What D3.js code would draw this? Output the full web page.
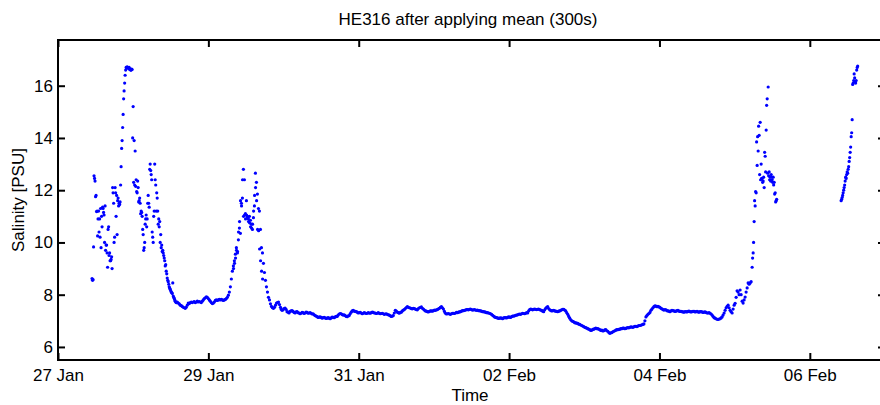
<!DOCTYPE html>
<html><head><meta charset="utf-8">
<script src="https://cdn.jsdelivr.net/npm/d3@7"></script>
<style>
body{margin:0;background:#fff}
svg{display:block}
text{font-family:"Liberation Sans",Arial,Helvetica,sans-serif;fill:#000}
</style>
</head><body>
<svg id="chart" width="880" height="405"></svg>
<script>
// ---- text ----
const titleText = "HE316 after applying mean (300s)";
const xLabelText = "Time";
const yLabelText = "Salinity [PSU]";

// ---- axes ----
const xStart = "2010-01-27 00:00";
const xEnd = "2010-02-07 00:00";
const xTickDates = ["2010-01-27 00:00","2010-01-29 00:00","2010-01-31 00:00","2010-02-02 00:00","2010-02-04 00:00","2010-02-06 00:00"];
const yMin = 5.5, yMax = 17.75;
const yTicks = [6, 8, 10, 12, 14, 16];

// ---- data: blocks of regularly sampled salinity (start time, step in hours, values) ----
const block1Start = "2010-01-27 10:52";
const block1StepH = 0.32;
const block1Values = [
 8.62, 8.58, 12.55, 12.35, 11.8, 11.2, 10.9, 10.4, 10.2, 9.8,
 10.6, 11.3, 11.05, 11.4, 9.9, 9.6, 10.5, 9.5, 9.3, 9.35,
 9.0, 11.9, 10.0, 12.1, 11.0, 10.3, 11.7, 11.5, 11.55, 12.9,
 13.9, 14.9, 15.8, 16.4, 16.7, 16.72, 16.68, 16.7, 16.65, 16.6,
 16.62, 15.2, 13.9, 13.5, 12.4, 11.9, 12.1, 11.6, 11.5, 11.2,
 11.0, 10.3, 9.8, 10.7, 11.05, 10.9, 11.8, 11.35, 13.0, 12.6,
 10.4, 10.0, 11.2, 12.4, 11.2, 11.7, 10.7, 10.6, 10.0, 9.8,
 9.65, 9.6, 9.4, 9.1, 8.9, 8.64, 8.5, 8.3, 8.2, 8.1,
 8.05, 7.95, 7.85, 7.75, 7.7,
 7.72, 7.68, 7.65, 7.6, 7.58, 7.55, 7.52, 7.5, 7.48, 7.52,
 7.6, 7.68, 7.66, 7.7, 7.72, 7.7, 7.72, 7.74, 7.7, 7.72,
 7.75, 7.72, 7.74, 7.72, 7.7, 7.75, 7.8, 7.85, 7.88, 7.92,
 7.9, 7.85, 7.8, 7.75, 7.7, 7.66, 7.68, 7.72, 7.78, 7.8,
 7.78, 7.8, 7.82, 7.8, 7.82, 7.8, 7.78, 7.8, 7.82, 7.85,
 7.9, 7.98, 8.1, 8.3, 8.6, 8.9,
 9.1, 9.3, 9.55, 9.8, 9.6, 10.1, 10.55, 10.35, 11.5, 11.7,
 12.8, 12.4, 11.1, 11.6, 11.0, 10.9, 11.0, 10.85, 10.7, 10.5,
 10.95, 11.4, 12.65, 12.3, 11.85, 11.3, 11.2, 10.5, 9.8, 9.6,
 9.2, 8.85, 8.55, 8.3, 8.1, 7.9, 7.8, 7.65, 7.55, 7.5,
 7.48, 7.52, 7.6, 7.68, 7.7, 7.72, 7.62, 7.52
];

// samples in between block1 samples during the first salty event
const block1bStart = "2010-01-27 11:02";
const block1bStepH = 0.32;
const block1bValues = [
 8.55, 9.83, 12.45, 11.75, 11.18, 10.25, 11.2, 10.9, 11.3, 11.0,
 11.35, 11.15, 10.0, 9.7, 9.9, 9.05, 10.6, 9.6, 9.3, 9.45,
 12.1, 11.5, 10.2, 11.9, 11.8, 11.6, 11.4, 11.45, 12.2, 13.6,
 14.4, 15.5, 16.1, 16.6, 16.68, 16.7, 16.66, 16.62, 16.6, 16.64,
 14.0, 12.3, 12.2, 12.15, 11.95, 12.35, 11.55, 11.7, 11.1, 11.15,
 10.5, 9.7, 10.0, 10.9, 10.6, 11.5, 11.5, 12.8, 12.75, 12.4,
 10.2, 11.0, 13.0, 12.2, 11.9, 11.2, 10.9, 10.8, 10.3, 9.9,
 9.7, 9.5, 9.3, 9.15, 8.8, 8.55, 8.4, 8.25, 8.15, 8.08,
 8.45, 7.9, 7.8, 7.72, 7.7
];

// samples in between block1 samples during the second salty event
const block1cStart = "2010-01-29 08:02";
const block1cStepH = 0.32;
const block1cValues = [
 9.0, 9.2, 9.4, 9.7, 9.65, 10.4, 10.8, 11.6, 11.4, 12.4,
 11.0, 11.05, 10.9, 11.05, 10.95, 10.8, 10.75, 10.6, 10.55, 10.7,
 11.2, 11.8, 12.1, 11.6, 10.5, 10.45, 9.75, 9.3, 8.9, 8.6
];

const block2Start = "2010-01-29 23:12";
const block2StepH = 0.64;
const block2Values = [
 7.45, 7.42, 7.49, 7.35, 7.3, 7.38, 7.36, 7.3, 7.35, 7.3,
 7.29, 7.31, 7.3, 7.32, 7.3, 7.29, 7.27, 7.2, 7.16, 7.14,
 7.13, 7.12, 7.11, 7.1, 7.1, 7.11, 7.13, 7.15, 7.17, 7.26,
 7.27, 7.22, 7.2, 7.16, 7.2, 7.33, 7.4, 7.36, 7.33, 7.31,
 7.3, 7.29, 7.3, 7.29, 7.3, 7.31, 7.32, 7.3, 7.29, 7.29,
 7.28, 7.27, 7.26, 7.25, 7.22, 7.17, 7.2, 7.4, 7.33, 7.29,
 7.33, 7.41, 7.47, 7.54, 7.5, 7.47, 7.48, 7.45, 7.42, 7.5,
 7.53, 7.45, 7.38, 7.35, 7.36, 7.38, 7.39, 7.4, 7.43, 7.48,
 7.54, 7.45, 7.29, 7.27, 7.26, 7.27, 7.29, 7.3, 7.31, 7.34,
 7.37, 7.39, 7.41, 7.43, 7.44, 7.43, 7.42, 7.41, 7.41, 7.39,
 7.37, 7.35, 7.33, 7.31, 7.29, 7.25, 7.18, 7.13, 7.11, 7.1,
 7.1, 7.11, 7.12, 7.13, 7.14, 7.16, 7.18, 7.21, 7.23, 7.26,
 7.27, 7.28, 7.29, 7.3, 7.43, 7.44, 7.44, 7.44, 7.44, 7.43,
 7.4, 7.35, 7.48, 7.54, 7.42, 7.38, 7.4, 7.37, 7.35, 7.38,
 7.42, 7.44, 7.38, 7.25, 7.1, 7.0, 6.96, 6.92, 6.9, 6.86,
 6.82, 6.78, 6.74, 6.7, 6.66, 6.64, 6.68, 6.72, 6.7, 6.66,
 6.64, 6.62, 6.66, 6.6, 6.52, 6.55, 6.6, 6.64, 6.66, 6.68,
 6.7, 6.72, 6.71, 6.74, 6.75, 6.76, 6.77, 6.79, 6.8, 6.82,
 6.85, 6.88, 7.15, 7.25, 7.32, 7.45, 7.54, 7.56, 7.55, 7.52,
 7.46, 7.41, 7.42, 7.38, 7.35, 7.4, 7.38, 7.37, 7.4, 7.36,
 7.35, 7.33, 7.35, 7.36, 7.35, 7.35, 7.36, 7.35, 7.34, 7.35,
 7.34, 7.33, 7.32, 7.3, 7.29, 7.22, 7.12, 7.08, 7.05, 7.08,
 7.15, 7.3, 7.5, 7.6, 7.4, 7.3, 7.6
];

// samples in between block2 samples
const block2bStart = "2010-01-29 23:31";
const block2bStepH = 0.64;
const block2bValues = [
 7.4, 7.47, 7.44, 7.33, 7.36, 7.39, 7.32, 7.34, 7.31, 7.27,
 7.32, 7.28, 7.33, 7.29, 7.31, 7.26, 7.23, 7.18, 7.13, 7.15,
 7.1, 7.13, 7.09, 7.12, 7.08, 7.14, 7.12, 7.17, 7.22, 7.28,
 7.24, 7.23, 7.17, 7.19, 7.27, 7.38, 7.37, 7.35, 7.3, 7.32,
 7.27, 7.31, 7.28, 7.31, 7.29, 7.33, 7.3, 7.28, 7.31, 7.27,
 7.29, 7.25, 7.27, 7.23, 7.19, 7.18, 7.3, 7.37, 7.31, 7.32,
 7.38, 7.43, 7.51, 7.52, 7.49, 7.46, 7.47, 7.43, 7.47, 7.51,
 7.48, 7.41, 7.37, 7.34, 7.38, 7.37, 7.41, 7.42, 7.46, 7.52,
 7.5, 7.36, 7.26, 7.28, 7.25, 7.29, 7.28, 7.32, 7.33, 7.35,
 7.39, 7.4, 7.43, 7.42, 7.45, 7.41, 7.43, 7.4, 7.39, 7.38,
 7.35, 7.34, 7.31, 7.3, 7.27, 7.21, 7.15, 7.12, 7.09, 7.11,
 7.08, 7.12, 7.11, 7.15, 7.13, 7.18, 7.19, 7.22, 7.25, 7.25,
 7.29, 7.27, 7.31, 7.38, 7.45, 7.42, 7.45, 7.43, 7.45, 7.41,
 7.37, 7.42, 7.52, 7.47, 7.4, 7.39, 7.38, 7.36, 7.37, 7.4,
 7.44, 7.41, 7.31, 7.17, 7.04, 6.98, 6.93, 6.91, 6.87, 6.84,
 6.8, 6.75, 6.72, 6.68, 6.63, 6.67, 6.7, 6.7, 6.68, 6.63,
 6.61, 6.65, 6.62, 6.55, 6.54, 6.58, 6.62, 6.66, 6.67, 6.7,
 6.72, 6.7, 6.73, 6.73, 6.77, 6.75, 6.79, 6.78, 6.82, 6.83,
 6.86, 7.0, 7.2, 7.28, 7.4, 7.5, 7.57, 7.54, 7.53, 7.48,
 7.43, 7.43, 7.39, 7.37, 7.38, 7.39, 7.36, 7.39, 7.37, 7.36,
 7.34, 7.35, 7.34, 7.37, 7.34, 7.36, 7.34, 7.36, 7.33, 7.35,
 7.32, 7.34, 7.3, 7.31, 7.26, 7.17, 7.1, 7.06, 7.07, 7.11,
 7.22, 7.4, 7.55, 7.5, 7.35, 7.45
];

const block3Start = "2010-02-05 00:09";
const block3StepH = 0.32;
const block3Values = [
 7.67, 7.9, 8.15, 8.1, 8.0, 8.18, 8.0, 7.75, 7.68, 7.8,
 7.91, 8.1, 8.26, 8.45, 8.4, 8.45, 8.5, 9.05, 9.6, 10.8,
 11.4, 11.9, 12.95, 13.5, 14.1, 14.6, 13.0, 12.45, 12.35, 12.1,
 13.3, 14.3, 15.5, 15.95, 12.7, 12.5, 12.6, 12.4, 12.5, 12.3,
 11.9, 11.6
];

const block3bStart = "2010-02-05 05:44";
const block3bStepH = 0.32;
const block3bValues = [
 9.4, 10.0, 11.6, 11.95, 13.85, 14.05, 14.45, 12.6, 12.4, 12.45,
 12.3, 12.5, 13.45, 12.7, 15.25, 12.65, 12.55, 12.4, 12.35, 12.5,
 12.3, 12.2, 11.85, 11.55, 11.65
];

const block4Start = "2010-02-06 10:00";
const block4StepH = 0.16;
const block4Values = [
 11.6, 11.65, 11.72, 11.8, 11.9, 12.0, 12.1, 12.2, 12.35, 12.5,
 12.45, 12.6, 12.7, 12.65, 12.8, 12.9, 13.1, 13.25, 13.45, 13.65,
 14.05, 14.2, 14.7, 16.05, 16.1, 16.2, 16.45, 16.3, 16.15, 16.1,
 16.2, 16.6, 16.7, 16.75
];

// ---- build ----
const parse = d3.timeParse("%Y-%m-%d %H:%M");
function expand(start, stepH, values) {
  const t0 = parse(start).getTime();
  return values.map((v, i) => ({ t: new Date(t0 + i * stepH * 3600e3), v }));
}
const data = [].concat(
  expand(block1Start, block1StepH, block1Values),
  expand(block1bStart, block1bStepH, block1bValues),
  expand(block1cStart, block1cStepH, block1cValues),
  expand(block2Start, block2StepH, block2Values),
  expand(block2bStart, block2bStepH, block2bValues),
  expand(block3Start, block3StepH, block3Values),
  expand(block3bStart, block3bStepH, block3bValues),
  expand(block4Start, block4StepH, block4Values)
);

const margin = { left: 58, right: 885, top: 40, bottom: 360 };
const svg = d3.select("#chart");

const x = d3.scaleTime().domain([parse(xStart), parse(xEnd)]).range([margin.left, margin.right]);
const y = d3.scaleLinear().domain([yMin, yMax]).range([margin.bottom, margin.top]);

const tickLen = 7;
const fontSize = 17;
const fmt = d3.timeFormat("%d %b");
const xTicks = xTickDates.map(parse);

// points
svg.append("g")
  .selectAll("circle").data(data).join("circle")
  .attr("cx", d => x(d.t)).attr("cy", d => y(d.v))
  .attr("r", 1.6).attr("fill", "#0000ff");

// bottom axis
const gx = svg.append("g").attr("transform", `translate(0,${margin.bottom})`)
  .call(d3.axisBottom(x).tickValues(xTicks).tickFormat(fmt).tickSize(-tickLen).tickPadding(9));
// top axis (ticks only)
const gxt = svg.append("g").attr("transform", `translate(0,${margin.top})`)
  .call(d3.axisTop(x).tickValues(xTicks).tickFormat("").tickSize(-tickLen));
// left axis
const gy = svg.append("g").attr("transform", `translate(${margin.left},0)`)
  .call(d3.axisLeft(y).tickValues(yTicks).tickFormat(d3.format("d")).tickSize(-tickLen).tickPadding(5));
// right axis (ticks only)
const gyr = svg.append("g").attr("transform", `translate(${margin.right},0)`)
  .call(d3.axisRight(y).tickValues(yTicks).tickFormat("").tickSize(-tickLen));

[gx, gxt, gy, gyr].forEach(g => {
  g.select(".domain").remove();
  g.selectAll(".tick line").attr("stroke", "#000").attr("stroke-width", 2);
  g.selectAll("text").attr("font-size", fontSize).attr("font-family", '"Liberation Sans",Arial,sans-serif').attr("fill", "#000");
});

// box
svg.append("rect")
  .attr("x", margin.left).attr("y", margin.top)
  .attr("width", margin.right - margin.left).attr("height", margin.bottom - margin.top)
  .attr("fill", "none").attr("stroke", "#000").attr("stroke-width", 2);

// title
svg.append("text").attr("x", 468).attr("y", 25).attr("text-anchor", "middle")
  .attr("font-size", fontSize).text(titleText);
// x label
svg.append("text").attr("x", 470).attr("y", 401).attr("text-anchor", "middle")
  .attr("font-size", fontSize).text(xLabelText);
// y label
svg.append("text").attr("transform", "translate(24,200) rotate(-90)").attr("text-anchor", "middle")
  .attr("font-size", fontSize).text(yLabelText);
</script>
</body></html>
